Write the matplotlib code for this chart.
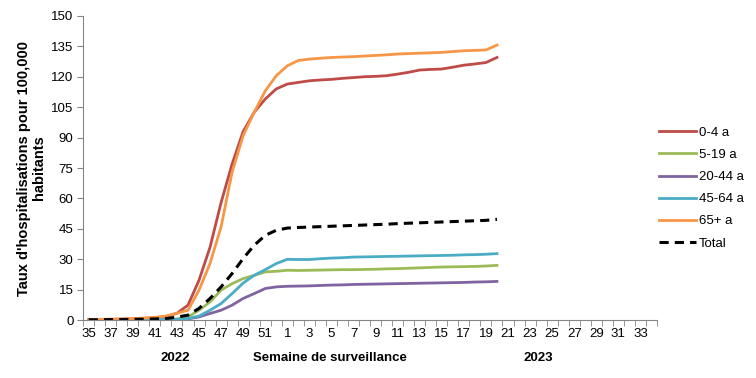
import matplotlib
matplotlib.use("Agg")
from matplotlib import pyplot as plt
import numpy as np

plt.rcParams['font.family'] = ['Liberation Sans', 'DejaVu Sans']

# weeks 35-52 of 2022, then 1-34 of 2023
weeks = list(range(35, 53)) + list(range(1, 35))

# cumulative rates, week 35 (2022) to week 20 (2023)
age_0_4 = [0.2, 0.3, 0.4, 0.5, 0.7, 0.9, 1.2, 1.8, 3.4, 7.4, 19.7, 36, 58, 77, 93, 102.5, 109, 114,
           116.4, 117.2, 118, 118.4, 118.7, 119.2, 119.6, 120, 120.2, 120.5, 121.3, 122.2, 123.3, 123.6,
           123.8, 124.7, 125.7, 126.3, 127, 129.5]
age_5_19 = [0.1, 0.1, 0.1, 0.2, 0.2, 0.2, 0.3, 0.4, 0.6, 1.6, 4.9, 9, 14.8, 18, 20.5, 22.1, 23.8, 24.1,
            24.6, 24.5, 24.6, 24.7, 24.8, 24.9, 24.9, 25, 25.1, 25.3, 25.4, 25.6, 25.8, 26, 26.2, 26.3,
            26.4, 26.5, 26.7, 27]
age_20_44 = [0.1, 0.1, 0.1, 0.1, 0.2, 0.2, 0.2, 0.3, 0.4, 0.6, 1.6, 3.3, 4.9, 7.4, 10.7, 13.1, 15.6, 16.4,
             16.7, 16.8, 16.9, 17.1, 17.3, 17.4, 17.6, 17.7, 17.8, 17.9, 18, 18.1, 18.2, 18.3, 18.4, 18.5,
             18.6, 18.8, 18.9, 19.1]
age_45_64 = [0.1, 0.1, 0.1, 0.1, 0.2, 0.2, 0.2, 0.3, 0.4, 0.8, 2, 4.9, 8.2, 13.1, 18.3, 22.1, 24.9, 27.9,
             30, 29.9, 29.9, 30.3, 30.6, 30.8, 31.1, 31.2, 31.3, 31.4, 31.5, 31.6, 31.7, 31.8, 31.9, 32,
             32.2, 32.3, 32.5, 32.8]
age_65 = [0.3, 0.4, 0.5, 0.6, 0.8, 1, 1.4, 2, 3.4, 4.9, 14.8, 28, 46, 73, 91, 102.5, 113, 120.5,
          125.4, 128, 128.7, 129.1, 129.5, 129.7, 129.9, 130.2, 130.5, 130.8, 131.2, 131.4, 131.6, 131.8,
          132, 132.4, 132.8, 133, 133.2, 135.6]
total = [0.2, 0.2, 0.3, 0.3, 0.4, 0.5, 0.6, 0.8, 1.5, 2.5, 5.8, 10.7, 16.4, 23, 30.4, 36.9, 41.8, 44.3,
         45.4, 45.7, 45.9, 46.1, 46.3, 46.5, 46.7, 46.9, 47.1, 47.3, 47.6, 47.8, 48, 48.2, 48.4, 48.6,
         48.8, 49, 49.2, 49.7]

series = [("0-4 a", age_0_4, "#BE4B48", "-"),
          ("5-19 a", age_5_19, "#9BBB59", "-"),
          ("20-44 a", age_20_44, "#8064A2", "-"),
          ("45-64 a", age_45_64, "#4BACC6", "-"),
          ("65+ a", age_65, "#F79646", "-"),
          ("Total", total, "black", "--")]

fig = plt.figure(figsize=(7.56, 3.78), dpi=100)
ax = fig.add_axes([0.110, 0.153, 0.759, 0.805])

for name, vals, col, ls in series:
    x = np.arange(len(vals))
    if ls == "--":
        ax.plot(x, vals, color=col, lw=2.2, ls=(0, (3, 2)), label=name)
    else:
        ax.plot(x, vals, color=col, lw=2.0, label=name)

ax.set_xlim(-0.5, len(weeks) - 0.5)
ax.set_ylim(0, 150)
ax.set_yticks(np.arange(0, 151, 15))
ax.set_xticks(np.arange(0, len(weeks), 2))
ax.set_xticklabels([str(w) for w in weeks[::2]])
ax.set_xticks(np.arange(-0.5, len(weeks), 1), minor=True)
ax.tick_params(axis='x', which='major', length=0, pad=6, labelsize=9.5)
ax.tick_params(axis='x', which='minor', length=4, color='#868686', direction='out')
ax.tick_params(axis='y', length=4, color='#868686', labelsize=9.5, pad=3)

for s in ['top', 'right']:
    ax.spines[s].set_visible(False)
for s in ['left', 'bottom']:
    ax.spines[s].set_color('#868686')

ax.set_ylabel("Taux d'hospitalisations pour 100,000\nhabitants", fontsize=10.5, fontweight='bold',
              labelpad=4, linespacing=1.1)
fig.text(175 / 756, 1 - 358 / 378, "2022", ha='center', va='center', fontsize=9.5, fontweight='bold')
fig.text(330 / 756, 1 - 358 / 378, "Semaine de surveillance", ha='center', va='center', fontsize=9.5, fontweight='bold')
fig.text(538 / 756, 1 - 358 / 378, "2023", ha='center', va='center', fontsize=9.5, fontweight='bold')

ax.legend(loc='center left', bbox_to_anchor=(0.983, 0.434), frameon=False, fontsize=9.5,
          handlelength=2.8, handletextpad=0.2, labelspacing=0.75)

fig.savefig("out.png", dpi=100)
